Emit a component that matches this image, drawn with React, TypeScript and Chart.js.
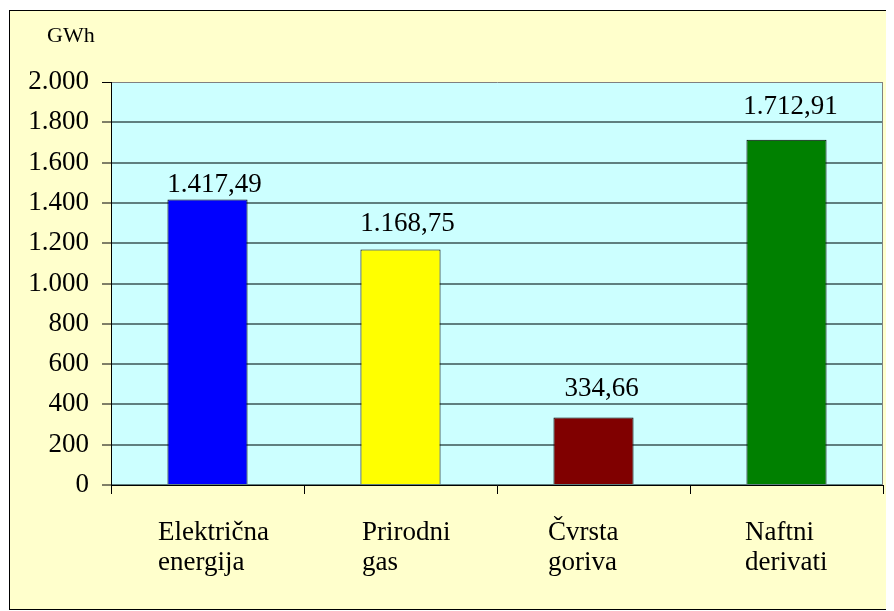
import React, { useEffect, useRef } from "react";
import { Chart, registerables } from "chart.js";

Chart.register(...registerables);

const categories: string[][] = [
  ["Električna", "energija"],
  ["Prirodni", "gas"],
  ["Čvrsta", "goriva"],
  ["Naftni", "derivati"],
];
const values: number[] = [1417.49, 1168.75, 334.66, 1712.91];
const barColors: string[] = ["#0000FF", "#FFFF00", "#800000", "#008000"];
const unitLabel = "GWh";
const yMin = 0;
const yMax = 2000;
const yStep = 200;

const FONT = '"Liberation Serif", "DejaVu Serif", serif';

function groupThousands(intPart: string): string {
  return intPart.replace(/\B(?=(\d{3})+(?!\d))/g, ".");
}
function fmtInt(v: number): string {
  return groupThousands(String(Math.round(v)));
}
function fmtDec(v: number): string {
  const [i, d] = v.toFixed(2).split(".");
  return groupThousands(i) + "," + d;
}

// label placement tweaks (style only)
const valueDx = [7, 7, 8, 4];
const valueDy = [7, 18, 22, 26];
const catDx = [-49.5, -38.5, -45.5, -41.5];

const decorPlugin = {
  id: "decor",
  beforeDraw(chart: any) {
    const { ctx, chartArea } = chart;
    ctx.save();
    ctx.fillStyle = "#FFFFFF";
    ctx.fillRect(0, 0, chart.width, chart.height);
    ctx.fillStyle = "#FFFFCC";
    ctx.fillRect(9, 10, 884, 600);
    ctx.strokeStyle = "#000000";
    ctx.lineWidth = 1;
    ctx.strokeRect(9.5, 10.5, 883, 599);
    ctx.fillStyle = "#CCFFFF";
    ctx.fillRect(
      chartArea.left,
      chartArea.top,
      chartArea.right - chartArea.left,
      chartArea.bottom - chartArea.top
    );
    ctx.restore();
  },
  afterDatasetsDraw(chart: any) {
    const { ctx, chartArea } = chart;
    ctx.save();
    ctx.strokeStyle = "#808080";
    ctx.lineWidth = 1;
    ctx.beginPath();
    ctx.moveTo(chartArea.right - 0.5, chartArea.top);
    ctx.lineTo(chartArea.right - 0.5, chartArea.bottom);
    ctx.stroke();

    const meta = chart.getDatasetMeta(0);
    ctx.fillStyle = "#000000";
    ctx.font = "27px " + FONT;
    ctx.textAlign = "center";
    ctx.textBaseline = "alphabetic";
    meta.data.forEach((bar: any, i: number) => {
      ctx.fillText(fmtDec(values[i]), bar.x + valueDx[i], bar.y - valueDy[i]);
    });

    const xs = chart.scales.x;
    ctx.textAlign = "left";
    categories.forEach((lines, i) => {
      const x = xs.getPixelForValue(i) + catDx[i];
      lines.forEach((line, j) => {
        ctx.fillText(line, x, chartArea.bottom + 55 + j * 30);
      });
    });

    ctx.font = "22px " + FONT;
    ctx.fillText(unitLabel, 47, 42);
    ctx.restore();
  },
};

export default function App() {
  const ref = useRef<HTMLCanvasElement | null>(null);
  useEffect(() => {
    const canvas = ref.current;
    if (!canvas) return;
    const chart = new Chart(canvas, {
      type: "bar",
      data: {
        labels: categories.map((c) => c.join(" ")),
        datasets: [
          {
            data: values,
            backgroundColor: barColors,
            borderColor: "#000000",
            borderWidth: 1,
            barPercentage: 0.415,
            categoryPercentage: 1,
          },
        ],
      },
      options: {
        responsive: false,
        animation: false,
        events: [],
        layout: { padding: { top: 82, right: 11, left: 0, bottom: 0 } },
        plugins: {
          legend: { display: false },
          tooltip: { enabled: false },
          title: { display: false },
        },
        scales: {
          x: {
            offset: true,
            afterFit(scale: any) {
              scale.height = 126;
            },
            grid: {
              display: true,
              offset: true,
              drawOnChartArea: false,
              drawTicks: true,
              tickLength: 9,
              tickColor: "#000000",
              tickWidth: 1,
            },
            border: { display: true, color: "#000000", width: 1 },
            ticks: { display: false },
          },
          y: {
            min: yMin,
            max: yMax,
            afterFit(scale: any) {
              scale.width = 111;
            },
            grid: {
              color: (c: any) =>
                c.tick && c.tick.value === yMax ? "#808080" : "#5f7f7f",
              lineWidth: (c: any) => (c.tick && c.tick.value === yMax ? 1 : 2),
              drawTicks: true,
              tickLength: 9,
              tickColor: "#000000",
              tickWidth: 1,
            },
            border: { display: true, color: "#000000", width: 1 },
            ticks: {
              stepSize: yStep,
              padding: 13,
              color: "#000000",
              font: { family: FONT, size: 27 },
              callback: (v: any) => fmtInt(Number(v)),
            },
          },
        },
      },
      plugins: [decorPlugin],
    });
    const timers = [150, 400].map((t) =>
      setTimeout(() => {
        try {
          chart.render();
        } catch (e) {}
      }, t)
    );
    return () => {
      timers.forEach((t) => clearTimeout(t));
      chart.destroy();
    };
  }, []);
  return (
    <canvas
      ref={ref}
      width={894}
      height={611}
      style={{ display: "block", margin: "-8px 0 0 -8px" }}
    />
  );
}
